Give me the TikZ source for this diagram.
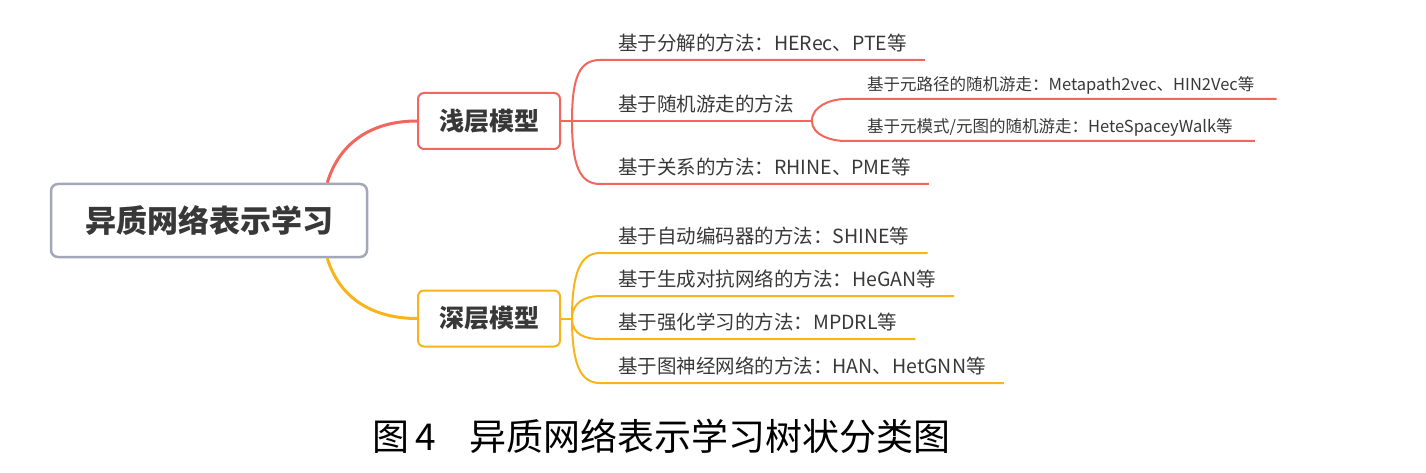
\documentclass[tikz,border=0pt]{standalone}
\usepackage{fontspec}
\setmainfont{Noto Sans CJK SC}
\usetikzlibrary{positioning,calc}
\definecolor{shallowred}{HTML}{F2665E}
\definecolor{deeporange}{HTML}{F9B41C}
\definecolor{rootgray}{HTML}{A3A7B8}
\definecolor{txtgray}{HTML}{383838}

\begin{document}
\begin{tikzpicture}[
  x=1pt, y=-1pt,
  every node/.style={text=txtgray},
  root/.style={draw=rootgray, line width=2.5pt, rounded corners=7pt, fill=white, minimum width=316pt, minimum height=73pt, font=\fontsize{31}{31}\selectfont\bfseries},
  cat/.style={draw=#1, line width=2pt, rounded corners=6pt, fill=white, minimum width=142pt, minimum height=56pt, font=\fontsize{25}{25}\selectfont\bfseries},
  leaf/.style={anchor=south west, inner xsep=18pt, inner ysep=7pt, text height=0.8em, text depth=0.2em, font=\fontsize{19.5}{19.5}\selectfont},
  subleaf/.style={leaf, inner xsep=22pt, inner ysep=6.5pt, font=\fontsize{16.5}{16.5}\selectfont},
  trunk/.style={draw=#1, line width=3pt},
  br/.style={draw=#1, line width=2pt}
]
  \useasboundingbox (0,0) rectangle (1426,473);

  \node[root] (hin) at (209,220.5) {异质网络表示学习};
  \node[cat=shallowred] (shallow) at (489,121) {浅层模型};
  \node[cat=deeporange] (deep) at (489,318.5) {深层模型};

  \draw[trunk=shallowred] ($(hin.north east)+(-41,0)$) .. controls +(13,-43) and +(-42,0) .. (shallow.west);
  \draw[trunk=deeporange] ($(hin.south east)+(-41,0)$) .. controls +(13,42) and +(-42,0) .. (deep.west);

  % shallow models
  \coordinate (sbr) at ($(shallow.east)+(11,0)$);
  \node[leaf] (mf) at (600,60) {基于分解的方法：HERec、PTE等};
  \node[leaf] (rw) at (600,121) {基于随机游走的方法};
  \node[leaf] (rel) at (600,184) {基于关系的方法：RHINE、PME等};
  \node[subleaf] (mp) at (845,99) {基于元路径的随机游走：Metapath2vec、HIN2Vec等};
  \node[subleaf] (mg) at (845,141) {基于元模式/元图的随机游走：HeteSpaceyWalk等};

  \draw[br=shallowred] (shallow.east) -- (sbr);
  \draw[br=shallowred] (sbr) .. controls +(0,-45) and +(-20,0) .. (mf.south west) -- (mf.south east);
  \draw[br=shallowred] (sbr) -- (rw.south east);
  \draw[br=shallowred] (sbr) .. controls +(0,45) and +(-20,0) .. (rel.south west) -- (rel.south east);
  \draw[br=shallowred] (rw.south east) .. controls +(0,-15) and +(-14,0) .. (mp.south west) -- (mp.south east);
  \draw[br=shallowred] (rw.south east) .. controls +(0,14) and +(-14,0) .. (mg.south west) -- (mg.south east);

  % deep models
  \coordinate (dbr) at ($(deep.east)+(11,0)$);
  \node[leaf] (ae) at (600,253) {基于自动编码器的方法：SHINE等};
  \node[leaf] (gan) at (600,296) {基于生成对抗网络的方法：HeGAN等};
  \node[leaf] (rl) at (600,339) {基于强化学习的方法：MPDRL等};
  \node[leaf] (gnn) at (600,383) {基于图神经网络的方法：HAN、HetGNN等};

  \draw[br=deeporange] (deep.east) -- (dbr);
  \draw[br=deeporange] (dbr) .. controls +(0,-45) and +(-20,0) .. (ae.south west) -- (ae.south east);
  \draw[br=deeporange] (dbr) .. controls +(0,-16) and +(-15,0) .. (gan.south west) -- (gan.south east);
  \draw[br=deeporange] (dbr) .. controls +(0,16) and +(-15,0) .. (rl.south west) -- (rl.south east);
  \draw[br=deeporange] (dbr) .. controls +(0,45) and +(-20,0) .. (gnn.south west) -- (gnn.south east);

  \node[anchor=west, inner sep=0pt, text=black, font=\fontsize{37}{37}\selectfont] (cap) at (372,436) {图\,4\hspace{34pt}异质网络表示学习树状分类图};
\end{tikzpicture}
\end{document}
